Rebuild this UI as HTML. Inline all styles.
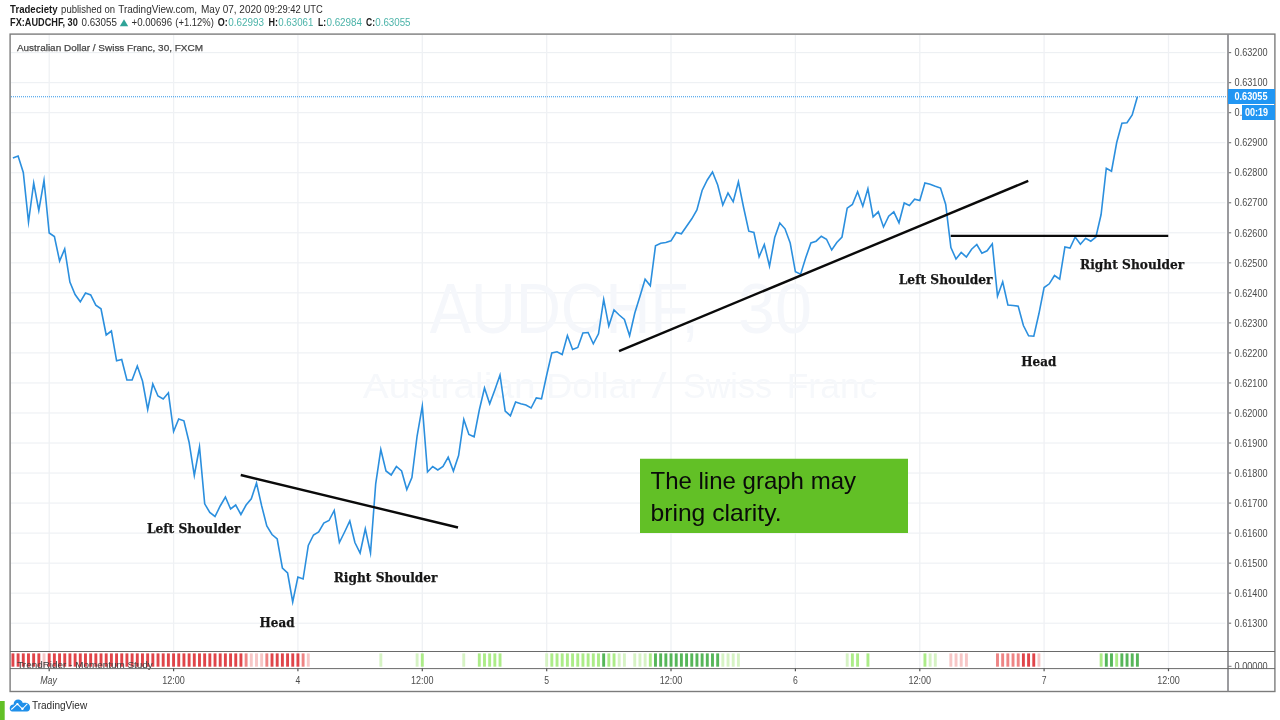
<!DOCTYPE html>
<html lang="en"><head><meta charset="utf-8"><title>AUDCHF line graph</title>
<style>html,body{margin:0;padding:0;background:#fff;}body{width:1280px;height:720px;overflow:hidden;}svg{display:block;}
text{font-family:"Liberation Sans", "DejaVu Sans", sans-serif;}
.ser{font-family:"DejaVu Serif", "Liberation Serif", serif;font-weight:bold;fill:#161616;stroke:#161616;stroke-width:0.25px;}
.ax{font-size:11px;fill:#4c4c4c;}
</style></head><body>
<svg width="1280" height="720" viewBox="0 0 1280 720">
<rect x="0" y="0" width="1280" height="720" fill="#ffffff"/>
<text x="10.1" y="13" font-size="10" fill="#1a1a1a" font-weight="bold" textLength="47.5" lengthAdjust="spacingAndGlyphs">Tradeciety</text>
<text x="61.1" y="13" font-size="10" fill="#2e2e2e" textLength="53.9" lengthAdjust="spacingAndGlyphs">published on</text>
<text x="118.2" y="13" font-size="10" fill="#2e2e2e" textLength="78.9" lengthAdjust="spacingAndGlyphs">TradingView.com,</text>
<text x="201" y="13" font-size="10" fill="#2e2e2e" textLength="60.6" lengthAdjust="spacingAndGlyphs">May 07, 2020</text>
<text x="264.3" y="13" font-size="10" fill="#2e2e2e" textLength="58.4" lengthAdjust="spacingAndGlyphs">09:29:42 UTC</text>
<text x="10.1" y="26.4" font-size="10" fill="#1a1a1a" font-weight="bold" textLength="67.7" lengthAdjust="spacingAndGlyphs">FX:AUDCHF, 30</text>
<text x="81.5" y="26.4" font-size="10" fill="#2e2e2e" textLength="35.4" lengthAdjust="spacingAndGlyphs">0.63055</text>
<path d="M119.8 26.3 L124 19.2 L128.2 26.3 Z" fill="#2fa397"/>
<text x="131.5" y="26.4" font-size="10" fill="#2e2e2e" textLength="40.6" lengthAdjust="spacingAndGlyphs">+0.00696</text>
<text x="175.3" y="26.4" font-size="10" fill="#2e2e2e" textLength="38.5" lengthAdjust="spacingAndGlyphs">(+1.12%)</text>
<text x="217.8" y="26.4" font-size="10" fill="#1a1a1a" font-weight="bold" textLength="10" lengthAdjust="spacingAndGlyphs">O:</text>
<text x="228.3" y="26.4" font-size="10" fill="#4bb3a8" textLength="35.7" lengthAdjust="spacingAndGlyphs">0.62993</text>
<text x="268.5" y="26.4" font-size="10" fill="#1a1a1a" font-weight="bold" textLength="9.5" lengthAdjust="spacingAndGlyphs">H:</text>
<text x="278.3" y="26.4" font-size="10" fill="#4bb3a8" textLength="35" lengthAdjust="spacingAndGlyphs">0.63061</text>
<text x="318" y="26.4" font-size="10" fill="#1a1a1a" font-weight="bold" textLength="8" lengthAdjust="spacingAndGlyphs">L:</text>
<text x="326.4" y="26.4" font-size="10" fill="#4bb3a8" textLength="35.7" lengthAdjust="spacingAndGlyphs">0.62984</text>
<text x="366" y="26.4" font-size="10" fill="#1a1a1a" font-weight="bold" textLength="9" lengthAdjust="spacingAndGlyphs">C:</text>
<text x="375.3" y="26.4" font-size="10" fill="#4bb3a8" textLength="35.2" lengthAdjust="spacingAndGlyphs">0.63055</text>
<g stroke="#ebeef2" stroke-width="1">
<line x1="11" y1="52.65" x2="1225.5" y2="52.65"/>
<line x1="11" y1="82.68" x2="1225.5" y2="82.68"/>
<line x1="11" y1="112.71" x2="1225.5" y2="112.71"/>
<line x1="11" y1="142.73" x2="1225.5" y2="142.73"/>
<line x1="11" y1="172.76" x2="1225.5" y2="172.76"/>
<line x1="11" y1="202.79" x2="1225.5" y2="202.79"/>
<line x1="11" y1="232.82" x2="1225.5" y2="232.82"/>
<line x1="11" y1="262.85" x2="1225.5" y2="262.85"/>
<line x1="11" y1="292.87" x2="1225.5" y2="292.87"/>
<line x1="11" y1="322.9" x2="1225.5" y2="322.9"/>
<line x1="11" y1="352.93" x2="1225.5" y2="352.93"/>
<line x1="11" y1="382.96" x2="1225.5" y2="382.96"/>
<line x1="11" y1="412.99" x2="1225.5" y2="412.99"/>
<line x1="11" y1="443.01" x2="1225.5" y2="443.01"/>
<line x1="11" y1="473.04" x2="1225.5" y2="473.04"/>
<line x1="11" y1="503.07" x2="1225.5" y2="503.07"/>
<line x1="11" y1="533.1" x2="1225.5" y2="533.1"/>
<line x1="11" y1="563.13" x2="1225.5" y2="563.13"/>
<line x1="11" y1="593.15" x2="1225.5" y2="593.15"/>
<line x1="11" y1="623.18" x2="1225.5" y2="623.18"/>
<line x1="49.2" y1="35" x2="49.2" y2="668" stroke="#eff1f4" stroke-width="1.3"/>
<line x1="173.6" y1="35" x2="173.6" y2="668" stroke="#eff1f4" stroke-width="1.3"/>
<line x1="297.9" y1="35" x2="297.9" y2="668" stroke="#eff1f4" stroke-width="1.3"/>
<line x1="422.3" y1="35" x2="422.3" y2="668" stroke="#eff1f4" stroke-width="1.3"/>
<line x1="546.7" y1="35" x2="546.7" y2="668" stroke="#eff1f4" stroke-width="1.3"/>
<line x1="671.0" y1="35" x2="671.0" y2="668" stroke="#eff1f4" stroke-width="1.3"/>
<line x1="795.4" y1="35" x2="795.4" y2="668" stroke="#eff1f4" stroke-width="1.3"/>
<line x1="919.8" y1="35" x2="919.8" y2="668" stroke="#eff1f4" stroke-width="1.3"/>
<line x1="1044.1" y1="35" x2="1044.1" y2="668" stroke="#eff1f4" stroke-width="1.3"/>
<line x1="1168.5" y1="35" x2="1168.5" y2="668" stroke="#eff1f4" stroke-width="1.3"/>
</g>
<text x="429.7" y="332.5" font-size="71" fill="#f5f7fb" textLength="269" lengthAdjust="spacingAndGlyphs">AUDCHF,</text>
<text x="738" y="332.5" font-size="71" fill="#f5f7fb" textLength="74" lengthAdjust="spacingAndGlyphs">30</text>
<text x="362.7" y="398" font-size="35" fill="#f6f8fb" textLength="173" lengthAdjust="spacingAndGlyphs">Australian</text>
<text x="546" y="398" font-size="35" fill="#f6f8fb" textLength="95" lengthAdjust="spacingAndGlyphs">Dollar</text>
<text x="651.7" y="398" font-size="35" fill="#f6f8fb" textLength="14.8" lengthAdjust="spacingAndGlyphs">/</text>
<text x="683" y="398" font-size="35" fill="#f6f8fb" textLength="89" lengthAdjust="spacingAndGlyphs">Swiss</text>
<text x="786.7" y="398" font-size="35" fill="#f6f8fb" textLength="90.7" lengthAdjust="spacingAndGlyphs">Franc</text>
<text x="16.9" y="50.7" font-size="9.7" fill="#484848" textLength="186.1" lengthAdjust="spacingAndGlyphs" stroke="#484848" stroke-width="0.25">Australian Dollar / Swiss Franc, 30, FXCM</text>
<line x1="11" y1="96.75" x2="1227" y2="96.75" stroke="#2f95e8" stroke-width="1" stroke-dasharray="1 1"/>
<polyline points="12.9,158.0 18.1,156.0 23.3,172.5 28.5,222.0 33.7,183.0 38.8,210.5 44.0,180.5 49.2,233.0 54.4,236.5 59.6,261.0 64.7,249.0 69.9,282.0 75.1,294.5 80.3,301.8 85.5,293.0 90.7,295.0 95.8,305.2 101.0,308.8 106.2,335.0 111.4,331.0 116.6,360.8 121.7,359.5 126.9,380.0 132.1,380.0 137.3,366.0 142.5,381.0 147.7,409.5 152.8,384.0 158.0,396.0 163.2,399.0 168.4,392.8 173.6,431.5 178.7,419.0 183.9,420.8 189.1,442.2 194.3,475.5 199.5,447.0 204.7,503.8 209.8,512.5 215.0,516.5 220.2,506.0 225.4,497.0 230.6,509.0 235.7,505.0 240.9,514.5 246.1,505.0 251.3,498.8 256.5,483.0 261.7,506.0 266.8,526.0 272.0,534.5 277.2,539.0 282.4,568.0 287.6,573.0 292.7,601.9 297.9,577.0 303.1,579.0 308.3,545.5 313.5,535.0 318.7,532.0 323.8,523.0 329.0,520.5 334.2,510.5 339.4,542.5 344.6,532.0 349.8,521.0 354.9,542.5 360.1,553.0 365.3,528.8 370.5,553.0 375.7,483.8 380.8,449.5 386.0,471.0 391.2,475.0 396.4,466.5 401.6,471.0 406.8,489.5 411.9,477.5 417.1,436.0 422.3,406.2 427.5,472.0 432.7,466.5 437.8,470.0 443.0,466.5 448.2,457.2 453.4,471.0 458.6,455.5 463.8,419.5 468.9,434.5 474.1,436.8 479.3,410.0 484.5,388.0 489.7,403.8 494.8,390.0 500.0,375.0 505.2,411.0 510.4,415.8 515.6,402.0 520.8,403.8 525.9,405.0 531.1,408.0 536.3,398.0 541.5,398.8 546.7,375.0 551.8,353.0 557.0,351.8 562.2,354.5 567.4,335.5 572.6,349.5 577.8,347.5 582.9,333.0 588.1,332.5 593.3,343.8 598.5,333.8 603.7,299.4 608.8,326.1 614.0,310.0 619.2,315.0 624.4,319.4 629.6,335.8 634.8,313.0 639.9,296.5 645.1,279.2 650.3,285.8 655.5,245.8 660.7,243.2 665.8,242.5 671.0,240.8 676.2,232.5 681.4,233.8 686.6,226.2 691.8,218.8 696.9,210.0 702.1,190.5 707.3,180.0 712.5,172.0 717.7,185.0 722.8,205.0 728.0,193.0 733.2,201.8 738.4,181.8 743.6,207.5 748.8,231.2 753.9,232.5 759.1,256.8 764.3,244.5 769.5,266.2 774.7,237.5 779.8,223.0 785.0,228.8 790.2,243.0 795.4,271.8 800.6,274.2 805.8,257.5 810.9,243.0 816.1,241.2 821.3,236.2 826.5,239.2 831.7,250.0 836.8,242.5 842.0,237.0 847.2,208.2 852.4,204.5 857.6,191.8 862.8,206.2 867.9,188.8 873.1,216.8 878.3,211.8 883.5,227.0 888.7,216.2 893.8,211.8 899.0,222.8 904.2,203.0 909.4,205.5 914.6,199.2 919.8,200.5 924.9,183.0 930.1,184.2 935.3,186.2 940.5,188.0 945.7,204.5 950.9,247.5 956.0,259.0 961.2,252.5 966.4,257.0 971.6,249.2 976.8,244.5 981.9,253.2 987.1,250.8 992.3,243.8 997.5,296.2 1002.7,281.8 1007.9,305.0 1013.0,305.5 1018.2,306.2 1023.4,325.5 1028.6,335.8 1033.8,336.2 1038.9,313.8 1044.1,287.5 1049.3,283.8 1054.5,275.5 1059.7,279.2 1064.9,247.0 1070.0,248.0 1075.2,237.0 1080.4,244.2 1085.6,238.2 1090.8,241.2 1095.9,237.0 1101.1,214.5 1106.3,168.2 1111.5,171.2 1116.7,142.5 1121.9,123.2 1127.0,122.8 1132.2,115.0 1137.4,96.8" fill="none" stroke="#2b8fde" stroke-width="1.6" stroke-linejoin="miter" stroke-miterlimit="12" stroke-linecap="butt"/>
<g stroke="#0a0a0a" stroke-width="2.4" stroke-linecap="butt">
<line x1="240.75" y1="475" x2="458" y2="527.5"/>
<line x1="619" y1="351.1" x2="1028.25" y2="180.9"/>
<line x1="950.75" y1="235.9" x2="1168.25" y2="235.9"/>
</g>
<text x="147" y="532.7" class="ser" font-size="13" textLength="93.5" lengthAdjust="spacingAndGlyphs">Left Shoulder</text>
<text x="333.75" y="582" class="ser" font-size="13" textLength="103.75" lengthAdjust="spacingAndGlyphs">Right Shoulder</text>
<text x="259.5" y="627" class="ser" font-size="13" textLength="35" lengthAdjust="spacingAndGlyphs">Head</text>
<text x="898.75" y="284.25" class="ser" font-size="13" textLength="93.75" lengthAdjust="spacingAndGlyphs">Left Shoulder</text>
<text x="1080" y="268.75" class="ser" font-size="13" textLength="104.25" lengthAdjust="spacingAndGlyphs">Right Shoulder</text>
<text x="1021.3" y="366.3" class="ser" font-size="13" textLength="35" lengthAdjust="spacingAndGlyphs">Head</text>
<rect x="640" y="458.75" width="268" height="74.25" fill="#62c026"/>
<text x="650.5" y="488.75" font-size="24" fill="#0a0a0a" textLength="205.5" lengthAdjust="spacingAndGlyphs">The line graph may</text>
<text x="650.5" y="520.5" font-size="24" fill="#0a0a0a" textLength="131" lengthAdjust="spacingAndGlyphs">bring clarity.</text>
<g shape-rendering="auto">
<rect x="11.48" y="653.4" width="2.9" height="13.3" fill="#e0454a"/>
<rect x="16.66" y="653.4" width="2.9" height="13.3" fill="#e0454a"/>
<rect x="21.84" y="653.4" width="2.9" height="13.3" fill="#e0454a"/>
<rect x="27.02" y="653.4" width="2.9" height="13.3" fill="#e0454a"/>
<rect x="32.20" y="653.4" width="2.9" height="13.3" fill="#e0454a"/>
<rect x="37.39" y="653.4" width="2.9" height="13.3" fill="#e0454a"/>
<rect x="42.57" y="653.4" width="2.9" height="13.3" fill="#f7c6c6"/>
<rect x="47.75" y="653.4" width="2.9" height="13.3" fill="#e0454a"/>
<rect x="52.93" y="653.4" width="2.9" height="13.3" fill="#e0454a"/>
<rect x="58.11" y="653.4" width="2.9" height="13.3" fill="#e0454a"/>
<rect x="63.30" y="653.4" width="2.9" height="13.3" fill="#e0454a"/>
<rect x="68.48" y="653.4" width="2.9" height="13.3" fill="#e0454a"/>
<rect x="73.66" y="653.4" width="2.9" height="13.3" fill="#e0454a"/>
<rect x="78.84" y="653.4" width="2.9" height="13.3" fill="#e0454a"/>
<rect x="84.02" y="653.4" width="2.9" height="13.3" fill="#e0454a"/>
<rect x="89.21" y="653.4" width="2.9" height="13.3" fill="#e0454a"/>
<rect x="94.39" y="653.4" width="2.9" height="13.3" fill="#e0454a"/>
<rect x="99.57" y="653.4" width="2.9" height="13.3" fill="#e0454a"/>
<rect x="104.75" y="653.4" width="2.9" height="13.3" fill="#e0454a"/>
<rect x="109.93" y="653.4" width="2.9" height="13.3" fill="#e0454a"/>
<rect x="115.11" y="653.4" width="2.9" height="13.3" fill="#e0454a"/>
<rect x="120.30" y="653.4" width="2.9" height="13.3" fill="#e0454a"/>
<rect x="125.48" y="653.4" width="2.9" height="13.3" fill="#e0454a"/>
<rect x="130.66" y="653.4" width="2.9" height="13.3" fill="#e0454a"/>
<rect x="135.84" y="653.4" width="2.9" height="13.3" fill="#e0454a"/>
<rect x="141.02" y="653.4" width="2.9" height="13.3" fill="#e0454a"/>
<rect x="146.21" y="653.4" width="2.9" height="13.3" fill="#e0454a"/>
<rect x="151.39" y="653.4" width="2.9" height="13.3" fill="#e0454a"/>
<rect x="156.57" y="653.4" width="2.9" height="13.3" fill="#e0454a"/>
<rect x="161.75" y="653.4" width="2.9" height="13.3" fill="#e0454a"/>
<rect x="166.93" y="653.4" width="2.9" height="13.3" fill="#e0454a"/>
<rect x="172.12" y="653.4" width="2.9" height="13.3" fill="#e0454a"/>
<rect x="177.30" y="653.4" width="2.9" height="13.3" fill="#e0454a"/>
<rect x="182.48" y="653.4" width="2.9" height="13.3" fill="#e0454a"/>
<rect x="187.66" y="653.4" width="2.9" height="13.3" fill="#e0454a"/>
<rect x="192.84" y="653.4" width="2.9" height="13.3" fill="#e0454a"/>
<rect x="198.03" y="653.4" width="2.9" height="13.3" fill="#e0454a"/>
<rect x="203.21" y="653.4" width="2.9" height="13.3" fill="#e0454a"/>
<rect x="208.39" y="653.4" width="2.9" height="13.3" fill="#e0454a"/>
<rect x="213.57" y="653.4" width="2.9" height="13.3" fill="#e0454a"/>
<rect x="218.75" y="653.4" width="2.9" height="13.3" fill="#e0454a"/>
<rect x="223.93" y="653.4" width="2.9" height="13.3" fill="#e0454a"/>
<rect x="229.12" y="653.4" width="2.9" height="13.3" fill="#e0454a"/>
<rect x="234.30" y="653.4" width="2.9" height="13.3" fill="#e0454a"/>
<rect x="239.48" y="653.4" width="2.9" height="13.3" fill="#e0454a"/>
<rect x="244.66" y="653.4" width="2.9" height="13.3" fill="#ee8484"/>
<rect x="249.84" y="653.4" width="2.9" height="13.3" fill="#f7c6c6"/>
<rect x="255.03" y="653.4" width="2.9" height="13.3" fill="#f7c6c6"/>
<rect x="260.21" y="653.4" width="2.9" height="13.3" fill="#f7c6c6"/>
<rect x="265.39" y="653.4" width="2.9" height="13.3" fill="#ee8484"/>
<rect x="270.57" y="653.4" width="2.9" height="13.3" fill="#e0454a"/>
<rect x="275.75" y="653.4" width="2.9" height="13.3" fill="#e0454a"/>
<rect x="280.94" y="653.4" width="2.9" height="13.3" fill="#e0454a"/>
<rect x="286.12" y="653.4" width="2.9" height="13.3" fill="#e0454a"/>
<rect x="291.30" y="653.4" width="2.9" height="13.3" fill="#e0454a"/>
<rect x="296.48" y="653.4" width="2.9" height="13.3" fill="#e0454a"/>
<rect x="301.66" y="653.4" width="2.9" height="13.3" fill="#ee8484"/>
<rect x="306.84" y="653.4" width="2.9" height="13.3" fill="#f7c6c6"/>
<rect x="379.39" y="653.4" width="2.9" height="13.3" fill="#d6f3c4"/>
<rect x="415.66" y="653.4" width="2.9" height="13.3" fill="#d6f3c4"/>
<rect x="420.85" y="653.4" width="2.9" height="13.3" fill="#acec88"/>
<rect x="462.30" y="653.4" width="2.9" height="13.3" fill="#d6f3c4"/>
<rect x="477.85" y="653.4" width="2.9" height="13.3" fill="#acec88"/>
<rect x="483.03" y="653.4" width="2.9" height="13.3" fill="#acec88"/>
<rect x="488.21" y="653.4" width="2.9" height="13.3" fill="#acec88"/>
<rect x="493.39" y="653.4" width="2.9" height="13.3" fill="#acec88"/>
<rect x="498.58" y="653.4" width="2.9" height="13.3" fill="#acec88"/>
<rect x="545.21" y="653.4" width="2.9" height="13.3" fill="#d6f3c4"/>
<rect x="550.39" y="653.4" width="2.9" height="13.3" fill="#acec88"/>
<rect x="555.58" y="653.4" width="2.9" height="13.3" fill="#acec88"/>
<rect x="560.76" y="653.4" width="2.9" height="13.3" fill="#acec88"/>
<rect x="565.94" y="653.4" width="2.9" height="13.3" fill="#acec88"/>
<rect x="571.12" y="653.4" width="2.9" height="13.3" fill="#acec88"/>
<rect x="576.30" y="653.4" width="2.9" height="13.3" fill="#acec88"/>
<rect x="581.49" y="653.4" width="2.9" height="13.3" fill="#acec88"/>
<rect x="586.67" y="653.4" width="2.9" height="13.3" fill="#acec88"/>
<rect x="591.85" y="653.4" width="2.9" height="13.3" fill="#acec88"/>
<rect x="597.03" y="653.4" width="2.9" height="13.3" fill="#acec88"/>
<rect x="602.21" y="653.4" width="2.9" height="13.3" fill="#56b659"/>
<rect x="607.40" y="653.4" width="2.9" height="13.3" fill="#acec88"/>
<rect x="612.58" y="653.4" width="2.9" height="13.3" fill="#acec88"/>
<rect x="617.76" y="653.4" width="2.9" height="13.3" fill="#d6f3c4"/>
<rect x="622.94" y="653.4" width="2.9" height="13.3" fill="#d6f3c4"/>
<rect x="633.30" y="653.4" width="2.9" height="13.3" fill="#d6f3c4"/>
<rect x="638.49" y="653.4" width="2.9" height="13.3" fill="#d6f3c4"/>
<rect x="643.67" y="653.4" width="2.9" height="13.3" fill="#d6f3c4"/>
<rect x="648.85" y="653.4" width="2.9" height="13.3" fill="#acec88"/>
<rect x="654.03" y="653.4" width="2.9" height="13.3" fill="#56b659"/>
<rect x="659.21" y="653.4" width="2.9" height="13.3" fill="#56b659"/>
<rect x="664.40" y="653.4" width="2.9" height="13.3" fill="#56b659"/>
<rect x="669.58" y="653.4" width="2.9" height="13.3" fill="#56b659"/>
<rect x="674.76" y="653.4" width="2.9" height="13.3" fill="#56b659"/>
<rect x="679.94" y="653.4" width="2.9" height="13.3" fill="#56b659"/>
<rect x="685.12" y="653.4" width="2.9" height="13.3" fill="#56b659"/>
<rect x="690.31" y="653.4" width="2.9" height="13.3" fill="#56b659"/>
<rect x="695.49" y="653.4" width="2.9" height="13.3" fill="#56b659"/>
<rect x="700.67" y="653.4" width="2.9" height="13.3" fill="#56b659"/>
<rect x="705.85" y="653.4" width="2.9" height="13.3" fill="#56b659"/>
<rect x="711.03" y="653.4" width="2.9" height="13.3" fill="#56b659"/>
<rect x="716.22" y="653.4" width="2.9" height="13.3" fill="#56b659"/>
<rect x="721.40" y="653.4" width="2.9" height="13.3" fill="#d6f3c4"/>
<rect x="726.58" y="653.4" width="2.9" height="13.3" fill="#d6f3c4"/>
<rect x="731.76" y="653.4" width="2.9" height="13.3" fill="#d6f3c4"/>
<rect x="736.94" y="653.4" width="2.9" height="13.3" fill="#d6f3c4"/>
<rect x="845.76" y="653.4" width="2.9" height="13.3" fill="#d6f3c4"/>
<rect x="850.94" y="653.4" width="2.9" height="13.3" fill="#acec88"/>
<rect x="856.13" y="653.4" width="2.9" height="13.3" fill="#acec88"/>
<rect x="866.49" y="653.4" width="2.9" height="13.3" fill="#acec88"/>
<rect x="923.49" y="653.4" width="2.9" height="13.3" fill="#acec88"/>
<rect x="928.67" y="653.4" width="2.9" height="13.3" fill="#d6f3c4"/>
<rect x="933.85" y="653.4" width="2.9" height="13.3" fill="#d6f3c4"/>
<rect x="949.40" y="653.4" width="2.9" height="13.3" fill="#f7c6c6"/>
<rect x="954.58" y="653.4" width="2.9" height="13.3" fill="#f7c6c6"/>
<rect x="959.76" y="653.4" width="2.9" height="13.3" fill="#f7c6c6"/>
<rect x="964.95" y="653.4" width="2.9" height="13.3" fill="#f7c6c6"/>
<rect x="996.04" y="653.4" width="2.9" height="13.3" fill="#ee8484"/>
<rect x="1001.22" y="653.4" width="2.9" height="13.3" fill="#ee8484"/>
<rect x="1006.40" y="653.4" width="2.9" height="13.3" fill="#ee8484"/>
<rect x="1011.58" y="653.4" width="2.9" height="13.3" fill="#ee8484"/>
<rect x="1016.77" y="653.4" width="2.9" height="13.3" fill="#ee8484"/>
<rect x="1021.95" y="653.4" width="2.9" height="13.3" fill="#e0454a"/>
<rect x="1027.13" y="653.4" width="2.9" height="13.3" fill="#e0454a"/>
<rect x="1032.31" y="653.4" width="2.9" height="13.3" fill="#e0454a"/>
<rect x="1037.49" y="653.4" width="2.9" height="13.3" fill="#f7c6c6"/>
<rect x="1099.68" y="653.4" width="2.9" height="13.3" fill="#acec88"/>
<rect x="1104.86" y="653.4" width="2.9" height="13.3" fill="#56b659"/>
<rect x="1110.04" y="653.4" width="2.9" height="13.3" fill="#56b659"/>
<rect x="1115.22" y="653.4" width="2.9" height="13.3" fill="#acec88"/>
<rect x="1120.40" y="653.4" width="2.9" height="13.3" fill="#56b659"/>
<rect x="1125.59" y="653.4" width="2.9" height="13.3" fill="#56b659"/>
<rect x="1130.77" y="653.4" width="2.9" height="13.3" fill="#56b659"/>
<rect x="1135.95" y="653.4" width="2.9" height="13.3" fill="#56b659"/>
</g>
<text x="17.2" y="668" font-size="9.3" fill="#3c3c3c" textLength="135.6" lengthAdjust="spacingAndGlyphs">TrendRider - Momentum Study</text>
<g stroke="#7c7c7c" fill="none">
<rect x="10.1" y="34.1" width="1264.8" height="657.4" stroke-width="1.4"/>
<line x1="1228" y1="34" x2="1228" y2="691.5" stroke-width="1.7" stroke="#8a8a8e"/>
<line x1="10" y1="651.5" x2="1275" y2="651.5" stroke-width="1" stroke="#6a6a6a"/>
<line x1="10" y1="668.6" x2="1275" y2="668.6" stroke-width="1" stroke="#6a6a6a"/>
<line x1="1228.8" y1="52.65" x2="1231.2" y2="52.65" stroke-width="1" stroke="#666"/>
<line x1="1228.8" y1="82.68" x2="1231.2" y2="82.68" stroke-width="1" stroke="#666"/>
<line x1="1228.8" y1="112.71" x2="1231.2" y2="112.71" stroke-width="1" stroke="#666"/>
<line x1="1228.8" y1="142.73" x2="1231.2" y2="142.73" stroke-width="1" stroke="#666"/>
<line x1="1228.8" y1="172.76" x2="1231.2" y2="172.76" stroke-width="1" stroke="#666"/>
<line x1="1228.8" y1="202.79" x2="1231.2" y2="202.79" stroke-width="1" stroke="#666"/>
<line x1="1228.8" y1="232.82" x2="1231.2" y2="232.82" stroke-width="1" stroke="#666"/>
<line x1="1228.8" y1="262.85" x2="1231.2" y2="262.85" stroke-width="1" stroke="#666"/>
<line x1="1228.8" y1="292.87" x2="1231.2" y2="292.87" stroke-width="1" stroke="#666"/>
<line x1="1228.8" y1="322.9" x2="1231.2" y2="322.9" stroke-width="1" stroke="#666"/>
<line x1="1228.8" y1="352.93" x2="1231.2" y2="352.93" stroke-width="1" stroke="#666"/>
<line x1="1228.8" y1="382.96" x2="1231.2" y2="382.96" stroke-width="1" stroke="#666"/>
<line x1="1228.8" y1="412.99" x2="1231.2" y2="412.99" stroke-width="1" stroke="#666"/>
<line x1="1228.8" y1="443.01" x2="1231.2" y2="443.01" stroke-width="1" stroke="#666"/>
<line x1="1228.8" y1="473.04" x2="1231.2" y2="473.04" stroke-width="1" stroke="#666"/>
<line x1="1228.8" y1="503.07" x2="1231.2" y2="503.07" stroke-width="1" stroke="#666"/>
<line x1="1228.8" y1="533.1" x2="1231.2" y2="533.1" stroke-width="1" stroke="#666"/>
<line x1="1228.8" y1="563.13" x2="1231.2" y2="563.13" stroke-width="1" stroke="#666"/>
<line x1="1228.8" y1="593.15" x2="1231.2" y2="593.15" stroke-width="1" stroke="#666"/>
<line x1="1228.8" y1="623.18" x2="1231.2" y2="623.18" stroke-width="1" stroke="#666"/>
<line x1="1228" y1="666.3" x2="1231.5" y2="666.3" stroke-width="1"/>
<line x1="49.2" y1="668.6" x2="49.2" y2="671.2" stroke-width="1.2" stroke="#555"/>
<line x1="173.6" y1="668.6" x2="173.6" y2="671.2" stroke-width="1.2" stroke="#555"/>
<line x1="297.9" y1="668.6" x2="297.9" y2="671.2" stroke-width="1.2" stroke="#555"/>
<line x1="422.3" y1="668.6" x2="422.3" y2="671.2" stroke-width="1.2" stroke="#555"/>
<line x1="546.7" y1="668.6" x2="546.7" y2="671.2" stroke-width="1.2" stroke="#555"/>
<line x1="671.0" y1="668.6" x2="671.0" y2="671.2" stroke-width="1.2" stroke="#555"/>
<line x1="795.4" y1="668.6" x2="795.4" y2="671.2" stroke-width="1.2" stroke="#555"/>
<line x1="919.8" y1="668.6" x2="919.8" y2="671.2" stroke-width="1.2" stroke="#555"/>
<line x1="1044.1" y1="668.6" x2="1044.1" y2="671.2" stroke-width="1.2" stroke="#555"/>
<line x1="1168.5" y1="668.6" x2="1168.5" y2="671.2" stroke-width="1.2" stroke="#555"/>
</g>
<text x="1234.6" y="56.35" class="ax" font-size="10.4" textLength="33" lengthAdjust="spacingAndGlyphs">0.63200</text>
<text x="1234.6" y="86.38" class="ax" font-size="10.4" textLength="33" lengthAdjust="spacingAndGlyphs">0.63100</text>
<text x="1234.6" y="116.41" class="ax" font-size="10.4" textLength="33" lengthAdjust="spacingAndGlyphs">0.63000</text>
<text x="1234.6" y="146.43" class="ax" font-size="10.4" textLength="33" lengthAdjust="spacingAndGlyphs">0.62900</text>
<text x="1234.6" y="176.46" class="ax" font-size="10.4" textLength="33" lengthAdjust="spacingAndGlyphs">0.62800</text>
<text x="1234.6" y="206.49" class="ax" font-size="10.4" textLength="33" lengthAdjust="spacingAndGlyphs">0.62700</text>
<text x="1234.6" y="236.52" class="ax" font-size="10.4" textLength="33" lengthAdjust="spacingAndGlyphs">0.62600</text>
<text x="1234.6" y="266.55" class="ax" font-size="10.4" textLength="33" lengthAdjust="spacingAndGlyphs">0.62500</text>
<text x="1234.6" y="296.57" class="ax" font-size="10.4" textLength="33" lengthAdjust="spacingAndGlyphs">0.62400</text>
<text x="1234.6" y="326.6" class="ax" font-size="10.4" textLength="33" lengthAdjust="spacingAndGlyphs">0.62300</text>
<text x="1234.6" y="356.63" class="ax" font-size="10.4" textLength="33" lengthAdjust="spacingAndGlyphs">0.62200</text>
<text x="1234.6" y="386.66" class="ax" font-size="10.4" textLength="33" lengthAdjust="spacingAndGlyphs">0.62100</text>
<text x="1234.6" y="416.69" class="ax" font-size="10.4" textLength="33" lengthAdjust="spacingAndGlyphs">0.62000</text>
<text x="1234.6" y="446.71" class="ax" font-size="10.4" textLength="33" lengthAdjust="spacingAndGlyphs">0.61900</text>
<text x="1234.6" y="476.74" class="ax" font-size="10.4" textLength="33" lengthAdjust="spacingAndGlyphs">0.61800</text>
<text x="1234.6" y="506.77" class="ax" font-size="10.4" textLength="33" lengthAdjust="spacingAndGlyphs">0.61700</text>
<text x="1234.6" y="536.8" class="ax" font-size="10.4" textLength="33" lengthAdjust="spacingAndGlyphs">0.61600</text>
<text x="1234.6" y="566.83" class="ax" font-size="10.4" textLength="33" lengthAdjust="spacingAndGlyphs">0.61500</text>
<text x="1234.6" y="596.85" class="ax" font-size="10.4" textLength="33" lengthAdjust="spacingAndGlyphs">0.61400</text>
<text x="1234.6" y="626.88" class="ax" font-size="10.4" textLength="33" lengthAdjust="spacingAndGlyphs">0.61300</text>
<clipPath id="cp"><rect x="1229" y="652" width="45" height="16.2"/></clipPath>
<g clip-path="url(#cp)">
<text x="1234.6" y="670.1" class="ax" font-size="10.4" textLength="33" lengthAdjust="spacingAndGlyphs">0.00000</text>
</g>
<rect x="1228" y="89" width="47" height="15" fill="#2196f3"/>
<text x="1234.5" y="100.3" font-size="10" fill="#ffffff" font-weight="bold" textLength="33" lengthAdjust="spacingAndGlyphs">0.63055</text>
<rect x="1242" y="105" width="33" height="15" fill="#2196f3"/>
<text x="1245" y="116.3" font-size="10" fill="#ffffff" font-weight="bold" textLength="23" lengthAdjust="spacingAndGlyphs">00:19</text>
<text x="48.5" y="684.1" class="ax" font-size="9" text-anchor="middle" font-style="italic" textLength="16.7" lengthAdjust="spacingAndGlyphs">May</text>
<text x="173.6" y="684.1" class="ax" font-size="9" text-anchor="middle" textLength="22.6" lengthAdjust="spacingAndGlyphs">12:00</text>
<text x="297.9" y="684.1" class="ax" font-size="9" text-anchor="middle" textLength="4.8" lengthAdjust="spacingAndGlyphs">4</text>
<text x="422.3" y="684.1" class="ax" font-size="9" text-anchor="middle" textLength="22.6" lengthAdjust="spacingAndGlyphs">12:00</text>
<text x="546.7" y="684.1" class="ax" font-size="9" text-anchor="middle" textLength="4.8" lengthAdjust="spacingAndGlyphs">5</text>
<text x="671.0" y="684.1" class="ax" font-size="9" text-anchor="middle" textLength="22.6" lengthAdjust="spacingAndGlyphs">12:00</text>
<text x="795.4" y="684.1" class="ax" font-size="9" text-anchor="middle" textLength="4.8" lengthAdjust="spacingAndGlyphs">6</text>
<text x="919.8" y="684.1" class="ax" font-size="9" text-anchor="middle" textLength="22.6" lengthAdjust="spacingAndGlyphs">12:00</text>
<text x="1044.1" y="684.1" class="ax" font-size="9" text-anchor="middle" textLength="4.8" lengthAdjust="spacingAndGlyphs">7</text>
<text x="1168.5" y="684.1" class="ax" font-size="9" text-anchor="middle" textLength="22.6" lengthAdjust="spacingAndGlyphs">12:00</text>
<rect x="0" y="701" width="4.7" height="19" fill="#62c026"/>
<g>
<path d="M12.2 711.4 C10.6 711.4 9.7 710 9.7 708.2 C9.7 706 11.2 704.4 13.6 704.4 C13.6 701.6 15.6 699.6 18.2 699.6 C20.4 699.6 22.1 700.9 22.8 703.1 C23.8 702.7 25 702.6 26 702.8 C28.4 703.2 30.1 705 30.1 707.4 C30.1 709.8 28.7 711.4 27 711.4 Z" fill="#2090ea"/>
<polyline points="11.3,709.5 17.4,703.9 22.4,709.0 27.3,703.9" fill="none" stroke="#ffffff" stroke-width="1.05" stroke-linejoin="round"/>
<circle cx="17.4" cy="704.2" r="1.15" fill="#ffffff"/>
<circle cx="22.4" cy="708.8" r="1.25" fill="#ffffff"/>
</g>
<text x="31.9" y="708.7" font-size="10.3" fill="#2a2a2a" textLength="55.3" lengthAdjust="spacingAndGlyphs">TradingView</text>
</svg>
</body></html>
